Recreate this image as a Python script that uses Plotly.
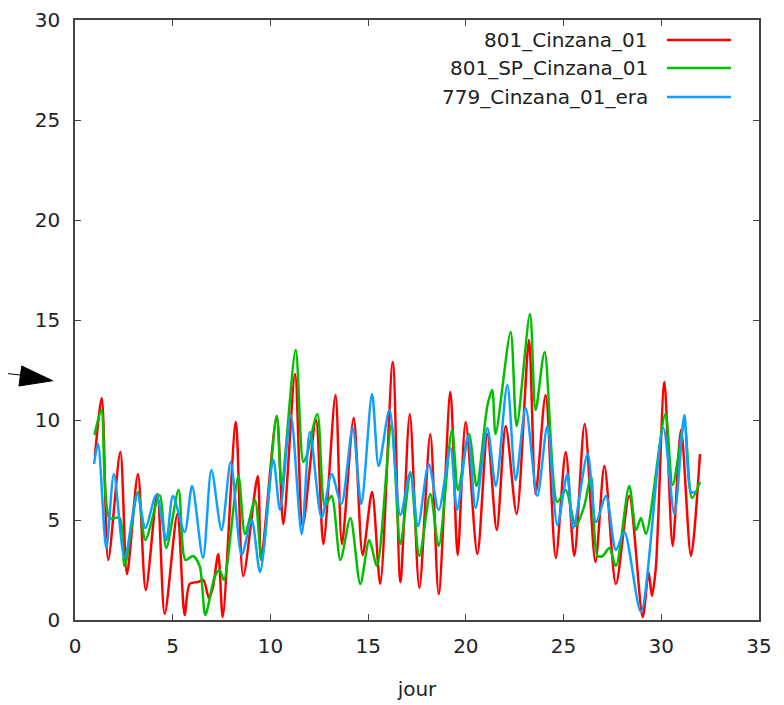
import plotly.graph_objects as go

# ---- data ----
red_day = [1.02, 1.37, 1.70, 2.32, 2.66, 3.22, 3.62, 4.21, 4.59, 5.24, 5.61, 5.87, 6.29, 6.57, 6.85, 7.05, 7.33, 7.56,
           8.23, 8.61, 9.35, 9.52, 10.32, 10.66, 11.26, 11.65, 12.33, 12.71, 13.33, 13.66, 14.26, 14.72, 15.2, 15.62,
           16.26, 16.65, 17.13, 17.62, 18.18, 18.61, 19.21, 19.58, 19.99, 20.59, 21.1, 21.58, 22.04, 22.6, 23.23,
           23.57, 24.08, 24.6, 25.11, 25.55, 26.08, 26.63, 27.09, 27.68, 28.36, 29.05, 29.35, 29.52, 29.72, 30.16,
           30.58, 31.01, 31.52, 31.98]
red_val = [8.2, 11.1, 3.0, 8.4, 2.3, 7.3, 1.5, 6.3, 0.3, 5.3, 0.25, 1.8, 1.9, 2.0, 1.1, 1.6, 3.3, 0.15,
           9.9, 2.2, 7.2, 3.0, 10.2, 4.8, 12.3, 4.7, 10.0, 3.8, 11.25, 3.8, 10.1, 3.25, 6.4, 1.8,
           12.9, 1.9, 10.3, 1.6, 9.3, 1.3, 11.4, 3.25, 9.9, 3.3, 9.3, 4.5, 9.7, 5.3, 14.0,
           6.3, 11.25, 3.1, 8.4, 3.2, 9.8, 2.9, 7.7, 1.8, 6.2, 0.15, 2.4, 1.2, 2.6, 11.9,
           3.7, 9.5, 3.2, 8.3]

green_day = [1.0, 1.35, 1.77, 2.28, 2.54, 3.22, 3.6, 4.33, 4.67, 5.3, 5.65, 6.04, 6.38, 6.67, 7.16, 7.4, 7.62,
             8.36, 8.7, 9.21, 9.55, 10.32, 10.57, 11.29, 11.68, 11.85, 12.4, 12.79, 13.13, 13.58, 14.09, 14.6,
             15.06, 15.45, 16.19, 16.65, 17.16, 17.62, 18.18, 18.61, 19.29, 19.6, 20.16, 20.55, 21.1, 21.35,
             21.52, 22.29, 22.6, 23.28, 23.57, 24.03, 24.68, 25.11, 25.62, 26.06, 26.4, 26.74, 27.0, 27.34,
             27.68, 28.36, 28.71, 28.96, 29.22, 30.21, 30.58, 31.18, 31.57, 31.98]
green_val = [9.25, 10.5, 5.1, 5.1, 2.7, 6.4, 4.0, 6.25, 3.6, 6.5, 3.0, 3.2, 2.7, 0.25, 2.2, 2.5, 2.0,
             7.2, 4.3, 6.0, 3.0, 10.2, 6.8, 13.5, 7.9, 8.2, 10.3, 5.7, 6.2, 3.0, 5.1, 1.8,
             4.0, 2.7, 9.75, 3.8, 7.25, 3.2, 6.3, 3.7, 9.5, 6.5, 9.3, 6.7, 10.7, 11.5,
             9.3, 14.4, 9.7, 15.3, 10.5, 13.4, 5.9, 6.5, 4.7, 5.7, 7.2, 3.2, 3.2, 3.6,
             2.7, 6.7, 4.5, 5.1, 4.3, 10.3, 6.75, 9.8, 6.1, 6.9]

blue_day = [0.97, 1.18, 1.6, 1.99, 2.54, 3.19, 3.6, 4.16, 4.67, 5.01, 5.61, 5.99, 6.55, 6.98, 7.5, 7.97, 8.53,
            9.04, 9.47, 10.15, 10.49, 11.04, 11.6, 12.02, 12.62, 13.13, 13.63, 14.21, 14.65, 15.2, 15.54, 16.09,
            16.65, 17.16, 17.55, 18.1, 18.61, 19.21, 19.55, 20.11, 20.5, 21.1, 21.53, 22.12, 22.55, 23.06, 23.66,
            24.17, 24.68, 25.19, 25.5, 26.23, 26.66, 27.17, 27.68, 28.11, 28.96, 30.1, 30.67, 31.18, 31.52, 31.78]
blue_val = [7.8, 8.8, 3.6, 7.3, 3.1, 6.3, 4.6, 6.25, 4.0, 6.2, 4.4, 6.7, 3.1, 7.5, 4.5, 7.9, 3.25,
            5.0, 2.4, 8.0, 5.5, 10.25, 4.3, 9.4, 5.1, 7.3, 5.8, 9.6, 5.8, 11.3, 7.7, 10.5,
            5.25, 7.4, 4.7, 7.8, 5.5, 8.6, 5.5, 9.2, 5.6, 9.6, 6.7, 11.75, 7.0, 10.6, 6.2,
            9.7, 4.75, 7.3, 4.6, 8.3, 4.9, 6.2, 3.5, 4.4, 0.4, 9.6, 5.3, 10.25, 6.4, 6.4]

series_names = ["801_Cinzana_01", "801_SP_Cinzana_01", "779_Cinzana_01_era"]
series_colors = ["#ff0000", "#00c000", "#0ea0ff"]
x_ticks = [0, 5, 10, 15, 20, 25, 30, 35]
y_ticks = [0, 5, 10, 15, 20, 25, 30]
x_title = "jour"

FONT = "DejaVu Sans"
FS = 20
fig = go.Figure()
for name, col, xs, ys in zip(series_names, series_colors,
                             [red_day, green_day, blue_day], [red_val, green_val, blue_val]):
    fig.add_trace(go.Scatter(x=xs, y=ys, mode="lines", name=name,
                             line=dict(color=col, width=2.5, shape="spline", smoothing=0.8),
                             showlegend=False))

axis_common = dict(showline=True, mirror="allticks", linecolor="#444444", linewidth=1.5,
                   ticks="inside", ticklen=6, tickcolor="#444444", tickwidth=1.2,
                   showgrid=False, zeroline=False, automargin=False,
                   tickfont=dict(family=FONT, size=FS, color="#222222"))
fig.update_layout(
    width=784, height=705,
    margin=dict(l=67, r=33, t=12, b=93),
    paper_bgcolor="white", plot_bgcolor="white",
    font=dict(family=FONT, size=FS, color="#222222"),
    xaxis=dict(range=[0, 35], tickvals=x_ticks, ticklabelstandoff=7,
               title=dict(text=x_title, font=dict(family=FONT, size=FS), standoff=25),
               **axis_common),
    yaxis=dict(range=[0, 30], tickvals=y_ticks, ticklabelstandoff=9, **axis_common),
)

# legend drawn gnuplot-style (text right aligned, key line on the right)
leg_y = [0.9667, 0.92, 0.8717]
for name, col, yy in zip(series_names, series_colors, leg_y):
    fig.add_annotation(xref="paper", yref="paper", x=0.8406, y=yy, text=name, showarrow=False,
                       xanchor="right", yanchor="middle", font=dict(family=FONT, size=FS, color="#222222"))
    fig.add_shape(type="line", xref="paper", yref="paper", x0=0.8655, x1=0.959, y0=yy, y1=yy,
                  line=dict(color=col, width=2.5))

# arrow on the left
fig.add_shape(type="line", xref="paper", yref="paper", x0=-0.1096, y0=0.4122, x1=-0.0800, y1=0.4083,
              line=dict(color="black", width=1))
fig.add_shape(type="path", xref="paper", yref="paper",
              path="M -0.0779 0.4233 L -0.0326 0.3988 L -0.0819 0.39 Z",
              fillcolor="black", line=dict(color="black", width=1))

fig.write_html("out.html")
